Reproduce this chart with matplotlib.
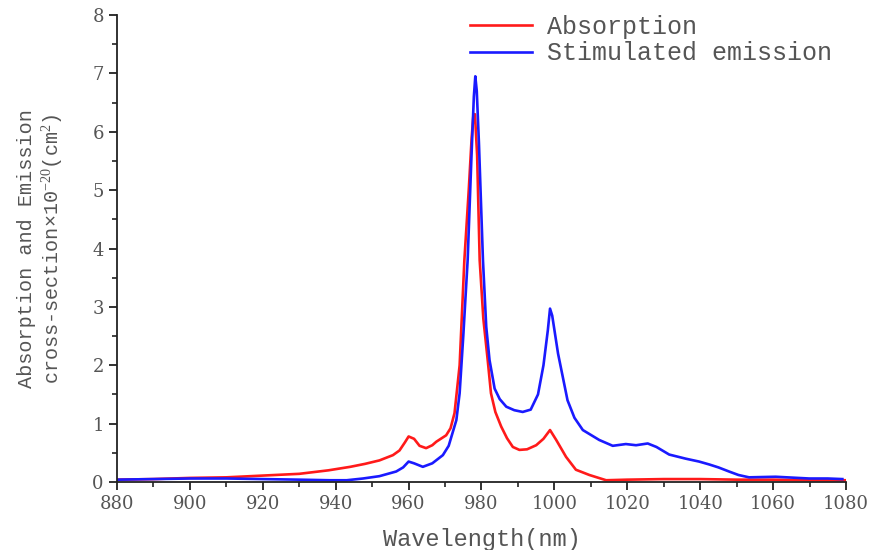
import matplotlib
matplotlib.use("Agg")
import matplotlib.pyplot as plt
from matplotlib.ticker import MultipleLocator

# Absorption cross-section (x1e-20 cm^2)
abs_wl = [880, 890, 900, 910, 920, 930, 938, 944, 948, 952, 955.7, 957.5, 959, 960, 961.5, 963,
          964.8, 966.5, 967.6, 970.3, 971.5, 972.6, 974, 975.3, 976.5, 977.3, 977.8, 978.2, 978.8,
          979.5, 980.5, 981.7, 982.6, 983.8, 985.4, 987, 988.6, 990.4, 992.5, 995, 997, 998.8,
          1000.5, 1003.2, 1005.9, 1009.6, 1014.2, 1020, 1030, 1040, 1050, 1060, 1070, 1080]
abs_val = [0.04, 0.05, 0.07, 0.08, 0.11, 0.14, 0.20, 0.26, 0.31, 0.37, 0.46, 0.54, 0.68, 0.78, 0.74,
           0.62, 0.58, 0.63, 0.69, 0.80, 0.92, 1.18, 2.0, 3.8, 5.0, 5.9, 6.3, 6.3, 5.6,
           3.8, 2.8, 2.09, 1.52, 1.2, 0.95, 0.75, 0.60, 0.55, 0.56, 0.63, 0.74, 0.89,
           0.72, 0.43, 0.21, 0.12, 0.03, 0.04, 0.05, 0.05, 0.04, 0.04, 0.03, 0.03]

# Stimulated emission cross-section (x1e-20 cm^2)
em_wl = [880, 890, 900, 910, 920, 930, 938.4, 943, 947.5, 952, 956.6, 958.5, 960, 961.5, 963.9,
         966.5, 969.4, 971, 973.1, 974.0, 975, 976.2, 977.2, 977.9, 978.3, 978.7, 979.3, 980.4,
         981.3, 982.2, 983.6, 985, 986.8, 989, 991.3, 993.5, 995.5, 997, 998.2, 998.8, 999.4,
         1001, 1003.6, 1005.5, 1007.8, 1012.3, 1016, 1019.6, 1022.4, 1025.6, 1028, 1031.5, 1036,
         1039.7, 1042.5, 1045, 1047.9, 1050.5, 1053.4, 1060.7, 1069.9, 1075, 1079]
em_val = [0.04, 0.05, 0.06, 0.06, 0.05, 0.04, 0.03, 0.03, 0.06, 0.10, 0.18, 0.25, 0.35, 0.32, 0.26,
          0.32, 0.46, 0.62, 1.06, 1.52, 2.5, 3.8, 5.5, 6.6, 6.95, 6.7, 5.8, 3.8,
          2.66, 2.09, 1.6, 1.42, 1.29, 1.23, 1.20, 1.24, 1.5, 2.0, 2.6, 2.97, 2.85,
          2.2, 1.40, 1.1, 0.89, 0.72, 0.62, 0.65, 0.63, 0.66, 0.60, 0.47, 0.40,
          0.35, 0.30, 0.25, 0.18, 0.12, 0.08, 0.09, 0.06, 0.06, 0.05]

label_font = "Liberation Mono"
tick_font = "DejaVu Serif"

plt.rcParams['mathtext.fontset'] = 'custom'
plt.rcParams['mathtext.rm'] = 'Liberation Serif'
plt.rcParams['mathtext.it'] = 'Liberation Serif'

fig = plt.figure(figsize=(8.73, 5.5), dpi=100)
ax = fig.add_axes([117/873, 1-482/550, (846-117)/873, (482-15)/550])

ax.plot(abs_wl, abs_val, color='#ff1a1a', lw=1.9, label='Absorption', solid_joinstyle='round')
ax.plot(em_wl, em_val, color='#1a1aff', lw=1.9, label='Stimulated emission', solid_joinstyle='round')

ax.set_xlim(880, 1080)
ax.set_ylim(0, 8)
ax.xaxis.set_major_locator(MultipleLocator(20))
ax.xaxis.set_minor_locator(MultipleLocator(10))
ax.yaxis.set_major_locator(MultipleLocator(1))
ax.yaxis.set_minor_locator(MultipleLocator(0.5))
ax.spines['top'].set_visible(False)
ax.spines['right'].set_visible(False)
for s in ('left', 'bottom'):
    ax.spines[s].set_linewidth(1.3)
    ax.spines[s].set_color('#222222')
ax.tick_params(which='major', direction='out', length=6, width=1.3, colors='#222222',
               labelcolor='#555555', labelsize=13)
ax.tick_params(which='minor', direction='out', length=3.5, width=1.2, colors='#222222')
for lab in ax.get_xticklabels() + ax.get_yticklabels():
    lab.set_family(tick_font)

ax.set_xlabel('Wavelength(nm)', fontsize=17, family=label_font, color='#555555', labelpad=11)
ax.set_ylabel('Absorption and Emission\ncross-section\u00d710$^{-20}$(cm$^{2}$)', fontsize=14.5,
              family=label_font, color='#555555', linespacing=1.15, labelpad=20)

leg = ax.legend(loc='upper left', bbox_to_anchor=(0.484, 1.0), frameon=False,
                prop={'family': label_font, 'size': 18}, handlelength=2.5, handletextpad=0.6,
                labelspacing=0.1, borderpad=0, borderaxespad=0, labelcolor='#555555')

fig.savefig('out.png', dpi=100)
